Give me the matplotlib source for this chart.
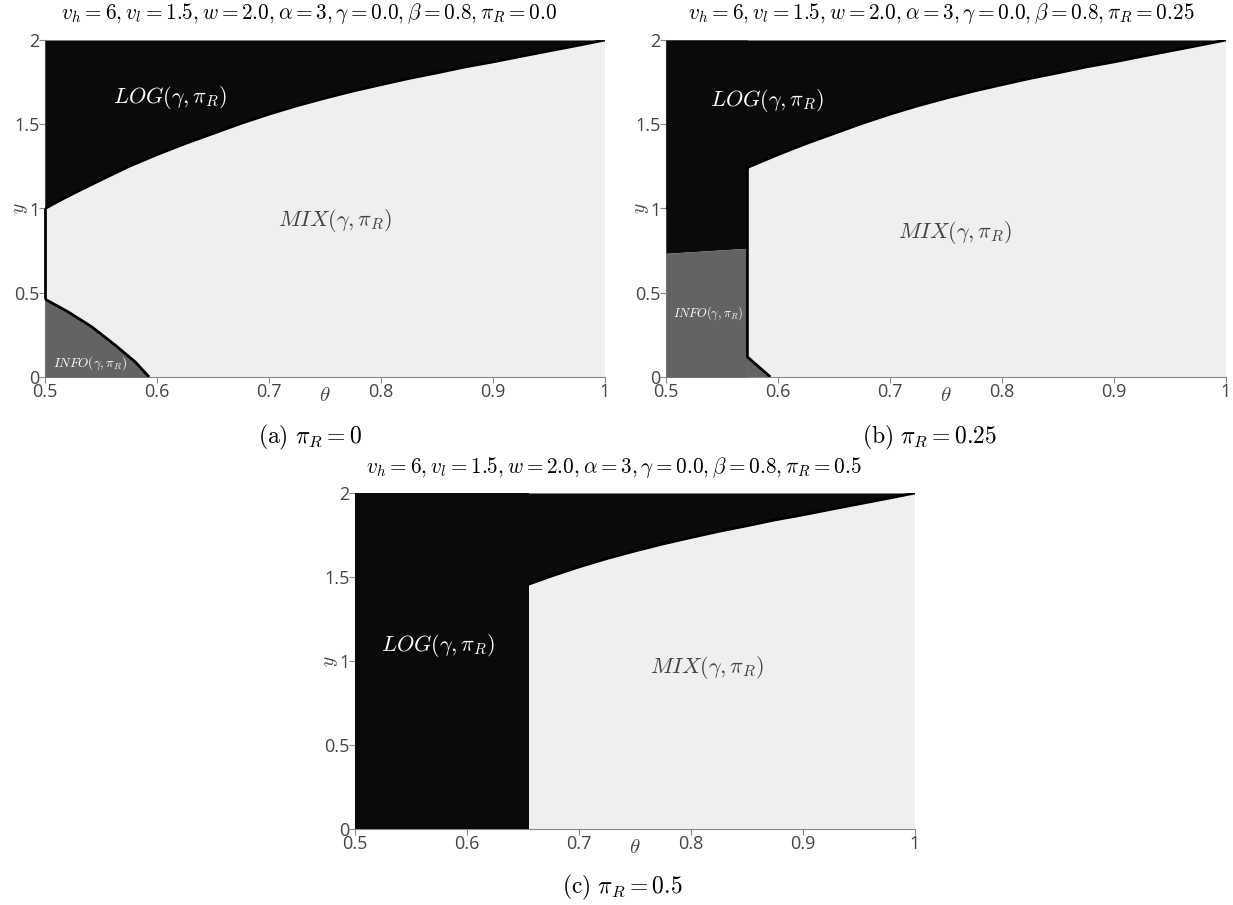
import numpy as np
import matplotlib
matplotlib.use("Agg")
import matplotlib.pyplot as plt

plt.rcParams["mathtext.fontset"] = "cm"
plt.rcParams["font.family"] = ["Open Sans", "DejaVu Sans"]

# LOG / MIX boundary (same in all panels)
theta_up = [0.5, 0.5125, 0.525, 0.55, 0.575, 0.6, 0.625, 0.65, 0.675, 0.7, 0.725,
            0.75, 0.775, 0.8, 0.825, 0.85, 0.875, 0.9, 0.925, 0.95, 0.975, 1.0]
y_up = [1.0, 1.045, 1.088, 1.17, 1.25, 1.32, 1.385, 1.445, 1.505, 1.56, 1.61,
        1.655, 1.697, 1.735, 1.772, 1.805, 1.84, 1.87, 1.903, 1.935, 1.967, 2.0]

# panel (a): INFO / MIX boundary
theta_info_a = [0.5, 0.5205, 0.5417, 0.5629, 0.5806, 0.593]
y_info_a = [0.462, 0.387, 0.298, 0.188, 0.089, 0.0]

# panel (b): vertical cut, INFO top edge and lower corner
theta_cut_b = 0.5727
y_cut_top_b = 1.248
theta_info_top_b = [0.5, 0.5727]
y_info_top_b = [0.734, 0.764]
y_corner_b = 0.119
theta_foot_b = 0.5932

# panel (c): vertical cut
theta_cut_c = 0.6557

pi_r = ["0.0", "0.25", "0.5"]
cap_tags = ["(a)", "(b)", "(c)"]
cap_vals = ["0", "0.25", "0.5"]

x_ticks = [0.5, 0.6, 0.7, 0.8, 0.9, 1.0]
x_ticklabels = ["0.5", "0.6", "0.7", "0.8", "0.9", "1"]
y_ticks = [0, 0.5, 1, 1.5, 2]
y_ticklabels = ["0", "0.5", "1", "1.5", "2"]

C_LOG = "#0a0a0a"
C_MIX = "#efefef"
C_INFO = "#636363"
C_TXT = "#444444"

fig = plt.figure(figsize=(12.33, 9.05), dpi=100)
W, H = 1233, 905


def make_axes(x0, x1, y0, y1):
    # pixel box -> figure fractions
    return fig.add_axes([x0 / W, 1 - y1 / H, (x1 - x0) / W, (y1 - y0) / H])


def style(ax):
    ax.set_xlim(0.5, 1.0)
    ax.set_ylim(0, 2)
    ax.set_facecolor(C_MIX)
    for s in ["top", "right"]:
        ax.spines[s].set_visible(False)
    for s in ["left", "bottom"]:
        ax.spines[s].set_color("#888888")
        ax.spines[s].set_linewidth(0.8)
        ax.spines[s].set_zorder(1)
    ax.set_xticks(x_ticks)
    ax.set_xticklabels(x_ticklabels)
    ax.set_yticks(y_ticks)
    ax.set_yticklabels(y_ticklabels)
    ax.tick_params(length=4, width=0.8, color="#888888", labelcolor=C_TXT,
                   labelsize=13, pad=0)
    ax.text(0.75, -0.055, r"$\theta$", transform=ax.get_xaxis_transform(),
            ha="center", va="center", fontsize=15, color=C_TXT)
    ax.text(-0.043, 1.0, r"$y$", transform=ax.get_yaxis_transform(),
            ha="center", va="center", fontsize=14, color=C_TXT, rotation=90)


def boundary(ax, xs, ys, z=5, **kw):
    ax.plot(xs, ys, color="black", lw=2, solid_capstyle="butt",
            solid_joinstyle="round", zorder=z, **kw)


# ---- panel (a)
ax = make_axes(45, 605, 40, 377)
style(ax)
ax.fill_between(theta_up, y_up, 2, color=C_LOG, lw=0, zorder=2)
ax.fill_between(theta_info_a, 0, y_info_a, color=C_INFO, lw=0, zorder=2)
boundary(ax, theta_up, y_up, z=3)
boundary(ax, theta_info_a, y_info_a)
boundary(ax, [0.5, 0.5], [y_info_a[0], y_up[0]], clip_on=False)
ax.text(0.612, 1.66, r"$LOG(\gamma,\pi_R)$", color="white", fontsize=16,
        ha="center", va="center", zorder=6)
ax.text(0.759, 0.93, r"$MIX(\gamma,\pi_R)$", color=C_TXT, fontsize=16,
        ha="center", va="center", zorder=6)
ax.text(0.540, 0.085, r"$INFO(\gamma,\pi_R)$", color="white", fontsize=9.5,
        ha="center", va="center", zorder=6)

# ---- panel (b)
ax = make_axes(666, 1226, 40, 377)
style(ax)
ax.fill_between(theta_up, y_up, 2, color=C_LOG, lw=0, zorder=2)
boundary(ax, theta_up, y_up, z=3)
ax.fill_between(theta_info_top_b, y_info_top_b, 2, color=C_LOG, lw=0, zorder=4)
ax.fill_between(theta_info_top_b, 0, y_info_top_b, color=C_INFO, lw=0, zorder=4)
ax.fill([theta_cut_b, theta_cut_b, theta_foot_b], [0, y_corner_b, 0],
        color=C_INFO, lw=0, zorder=4)
boundary(ax, [theta_foot_b, theta_cut_b, theta_cut_b], [0, y_corner_b, y_cut_top_b])
ax.text(0.590, 1.64, r"$LOG(\gamma,\pi_R)$", color="white", fontsize=16,
        ha="center", va="center", zorder=6)
ax.text(0.758, 0.86, r"$MIX(\gamma,\pi_R)$", color=C_TXT, fontsize=16,
        ha="center", va="center", zorder=6)
ax.text(0.5375, 0.38, r"$INFO(\gamma,\pi_R)$", color="white", fontsize=9,
        ha="center", va="center", zorder=6)

# ---- panel (c)
ax = make_axes(355, 915, 493, 829)
style(ax)
ax.fill_between(theta_up, y_up, 2, color=C_LOG, lw=0, zorder=2)
boundary(ax, theta_up, y_up, z=3)
ax.fill_between([0.5, theta_cut_c], 0, 2, color=C_LOG, lw=0, zorder=4)
ax.text(0.574, 1.095, r"$LOG(\gamma,\pi_R)$", color="white", fontsize=16,
        ha="center", va="center", zorder=6)
ax.text(0.814, 0.96, r"$MIX(\gamma,\pi_R)$", color=C_TXT, fontsize=16,
        ha="center", va="center", zorder=6)

# titles and captions
title_pos = [(309, 14), (941, 14), (614, 467)]
cap_pos = [(310, 437), (930, 437), (622, 887)]
for p, (tx, ty), (cx, cy), tag, val in zip(pi_r, title_pos, cap_pos, cap_tags, cap_vals):
    fig.text(tx / W, 1 - ty / H,
             r"$v_h = 6, v_l = 1.5, w = 2.0, \alpha = 3, \gamma = 0.0, \beta = 0.8, \pi_R = %s$" % p,
             ha="center", va="center", fontsize=15.3)
    fig.text(cx / W, 1 - cy / H, r"$\mathrm{%s}\ \pi_R = %s$" % (tag, val),
             ha="center", va="center", fontsize=17)

fig.savefig("out.png", dpi=100)
